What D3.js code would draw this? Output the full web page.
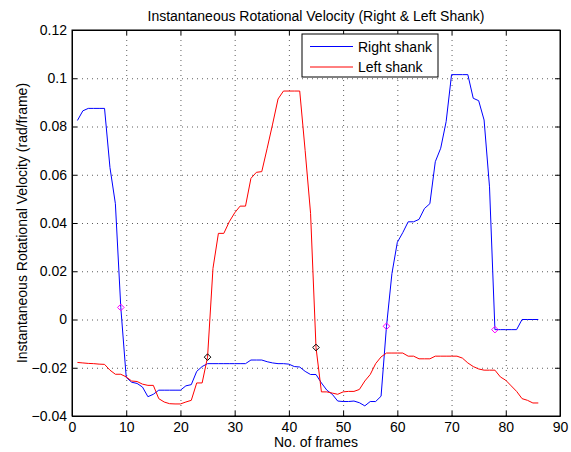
<!DOCTYPE html>
<html>
<head>
<meta charset="utf-8">
<script src="https://cdn.jsdelivr.net/npm/d3@7"></script>
<style>
  body { margin: 0; background: #fff; }
  svg text { font-family: "Liberation Sans", Helvetica, Arial, sans-serif; fill: #000; }
</style>
</head>
<body>
<div id="chart"></div>
<script>
// Rotational velocity per frame (frames 1..86)
const rightShank = [
  0.0825, 0.0865, 0.0875, 0.0875, 0.0875, 0.0875, 0.063, 0.048, 0.005, -0.024,
  -0.026, -0.0265, -0.028, -0.032, -0.031, -0.0293, -0.0293, -0.0293, -0.0293, -0.0293,
  -0.0275, -0.027, -0.0215, -0.0195, -0.0183, -0.0183, -0.0183, -0.0183, -0.0183, -0.0183,
  -0.0183, -0.0183, -0.0168, -0.0168, -0.0168, -0.0175, -0.018, -0.0183, -0.0183, -0.0185,
  -0.0195, -0.0197, -0.0215, -0.0228, -0.0228, -0.0263, -0.0293, -0.031, -0.0338, -0.034,
  -0.034, -0.0338, -0.0345, -0.0358, -0.034, -0.034, -0.0318, -0.0028, 0.019, 0.032,
  0.036, 0.0405, 0.0405, 0.0415, 0.046, 0.048, 0.0654, 0.071, 0.082, 0.1015,
  0.1015, 0.1015, 0.1015, 0.0917, 0.0907, 0.0827, 0.055, -0.0042, -0.0042, -0.0042,
  -0.0042, -0.0042, 0, 0, 0, 0
];
const leftShank = [
  -0.0178, -0.018, -0.0182, -0.0183, -0.0185, -0.0186, -0.021, -0.0227, -0.0227, -0.0238,
  -0.0255, -0.0257, -0.0268, -0.0273, -0.0273, -0.0328, -0.0342, -0.0349, -0.035, -0.035,
  -0.0342, -0.0335, -0.0263, -0.0263, -0.0156, 0.0212, 0.0357, 0.0357, 0.0405, 0.0442,
  0.047, 0.047, 0.0585, 0.061, 0.0613, 0.071, 0.081, 0.0914, 0.0947, 0.0947,
  0.0947, 0.0947, 0.07, 0.044, -0.0116, -0.030, -0.030, -0.0305, -0.031, -0.030,
  -0.0298, -0.0298, -0.029, -0.0255, -0.0228, -0.0183, -0.0155, -0.0139, -0.0139, -0.0139,
  -0.0139, -0.0152, -0.0152, -0.0163, -0.0163, -0.0163, -0.0152, -0.0152, -0.0152, -0.0152,
  -0.0152, -0.016, -0.018, -0.0195, -0.0205, -0.021, -0.021, -0.021, -0.0238, -0.0252,
  -0.0275, -0.0298, -0.0328, -0.0335, -0.0346, -0.0346
];
// Frames where the diamonds sit
const rightMarkerFrames = [9, 58, 78];
const leftMarkerFrames = [25, 45];

const xTicks = [0, 10, 20, 30, 40, 50, 60, 70, 80, 90];
const yTicks = [-0.04, -0.02, 0, 0.02, 0.04, 0.06, 0.08, 0.1, 0.12];
const yTickLabels = ["\u22120.04", "\u22120.02", "0", "0.02", "0.04", "0.06", "0.08", "0.1", "0.12"];
const seriesNames = ["Right shank", "Left shank"];

const W = 571, H = 452;
const m = {left: 72, top: 30, right: 11, bottom: 36};
const w = W - m.left - m.right, h = H - m.top - m.bottom;

const svg = d3.select("#chart").append("svg")
  .attr("width", W)
  .attr("height", H);

const x = d3.scaleLinear().domain([0, 90]).range([m.left, m.left + w]);
const y = d3.scaleLinear().domain([-0.04, 0.12]).range([m.top + h, m.top]);

// grid (dotted)
const grid = svg.append("g").attr("stroke", "#333").attr("stroke-dasharray", "1,4").attr("stroke-width", 0.8);
grid.selectAll(".gx").data(xTicks.slice(1, -1)).enter().append("line")
  .attr("x1", d => x(d) + 0.5).attr("x2", d => x(d) + 0.5)
  .attr("y1", m.top).attr("y2", m.top + h);
grid.selectAll(".gy").data(yTicks.slice(1, -1)).enter().append("line")
  .attr("x1", m.left).attr("x2", m.left + w)
  .attr("y1", d => y(d) + 0.5).attr("y2", d => y(d) + 0.5);

// axes, ticks inward on all sides
const fmtY = d => yTickLabels[yTicks.indexOf(d)];
const axB = svg.append("g").attr("transform", `translate(0,${m.top + h})`)
  .call(d3.axisBottom(x).tickValues(xTicks).tickSizeInner(-5).tickSizeOuter(0).tickPadding(6));
const axT = svg.append("g").attr("transform", `translate(0,${m.top})`)
  .call(d3.axisTop(x).tickValues(xTicks).tickSizeInner(-5).tickSizeOuter(0).tickFormat(""));
const axL = svg.append("g").attr("transform", `translate(${m.left},0)`)
  .call(d3.axisLeft(y).tickValues(yTicks).tickFormat(fmtY).tickSizeInner(-5).tickSizeOuter(0).tickPadding(5));
const axR = svg.append("g").attr("transform", `translate(${m.left + w},0)`)
  .call(d3.axisRight(y).tickValues(yTicks).tickSizeInner(-5).tickSizeOuter(0).tickFormat(""));
[axB, axT, axL, axR].forEach(a => {
  a.selectAll("path").attr("stroke", "#000");
  a.selectAll("line").attr("stroke", "#000");
  a.selectAll("text").attr("font-size", 14).attr("font-family", null).attr("fill", "#000");
});

// lines
const line = d3.line().x((d, i) => x(i + 1)).y(d => y(d));
svg.append("path").datum(rightShank).attr("d", line)
  .attr("fill", "none").attr("stroke", "#0000ff").attr("stroke-width", 1);
svg.append("path").datum(leftShank).attr("d", line)
  .attr("fill", "none").attr("stroke", "#ff0000").attr("stroke-width", 1);

// diamond markers
function diamond(cx, cy) {
  const a = 3.3, b = 3.3;
  return `M${cx},${cy - b}L${cx + a},${cy}L${cx},${cy + b}L${cx - a},${cy}Z`;
}
svg.selectAll(".mr").data(rightMarkerFrames).enter().append("path")
  .attr("d", f => diamond(x(f), y(rightShank[f - 1])))
  .attr("fill", "none").attr("stroke", "#ff00ff").attr("stroke-width", 1);
svg.selectAll(".ml").data(leftMarkerFrames).enter().append("path")
  .attr("d", f => diamond(x(f), y(leftShank[f - 1])))
  .attr("fill", "none").attr("stroke", "#000").attr("stroke-width", 1);

// box
svg.append("rect").attr("x", m.left).attr("y", m.top).attr("width", w).attr("height", h)
  .attr("fill", "none").attr("stroke", "#000").attr("stroke-width", 1);

// legend
const lg = svg.append("g").attr("transform", "translate(302,34)");
lg.append("rect").attr("x", 0).attr("y", 0).attr("width", 136).attr("height", 43)
  .attr("fill", "#fff").attr("stroke", "#000").attr("stroke-width", 1);
const colors = ["#0000ff", "#ff0000"];
seriesNames.forEach((n, i) => {
  const yy = 12.5 + i * 20.5;
  lg.append("line").attr("x1", 8).attr("x2", 51).attr("y1", yy).attr("y2", yy)
    .attr("stroke", colors[i]).attr("stroke-width", 1);
  lg.append("text").attr("x", 56).attr("y", yy + 5).attr("font-size", 14).text(n);
});

// titles
svg.append("text").attr("x", m.left + w / 2).attr("y", 21).attr("text-anchor", "middle")
  .attr("font-size", 14).text("Instantaneous Rotational Velocity (Right & Left Shank)");
svg.append("text").attr("x", m.left + w / 2).attr("y", 447).attr("text-anchor", "middle")
  .attr("font-size", 14).text("No. of frames");
svg.append("text").attr("transform", `translate(27,${m.top + h / 2}) rotate(-90)`)
  .attr("text-anchor", "middle").attr("font-size", 14)
  .text("Instantaneous Rotational Velocity (rad/frame)");
</script>
</body>
</html>
